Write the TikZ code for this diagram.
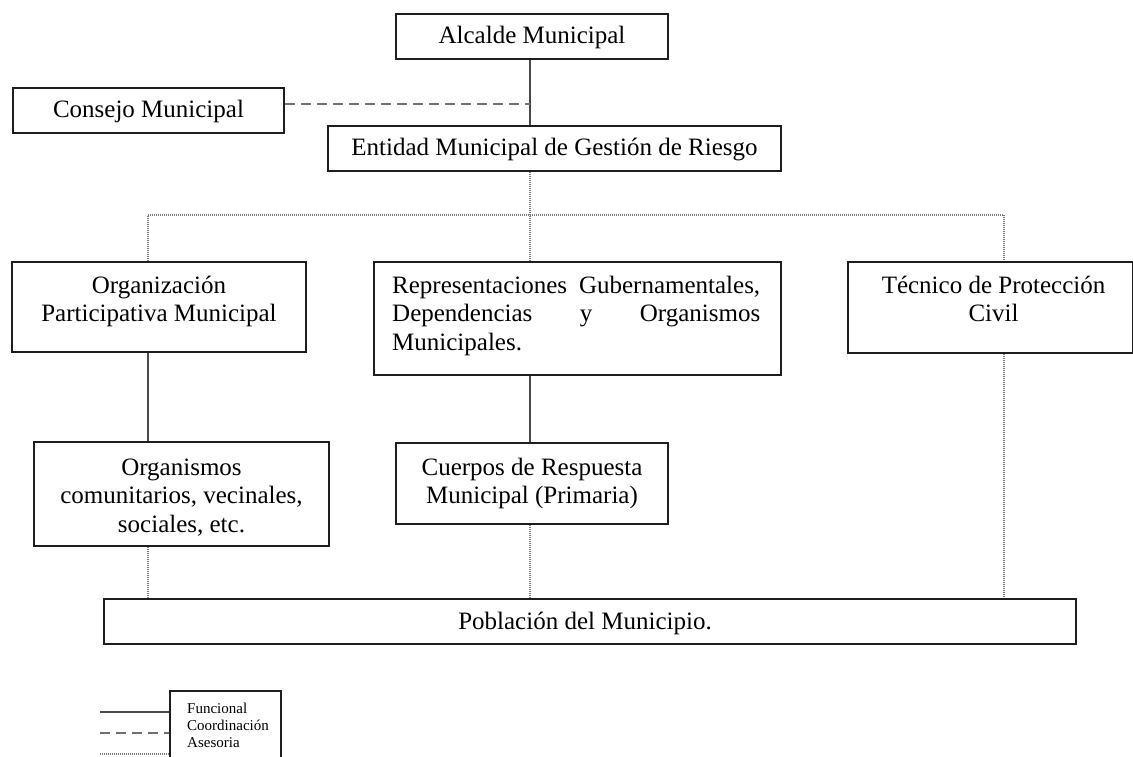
\documentclass[tikz,border=0pt]{standalone}
\usepackage{fontspec}
\setmainfont{Liberation Serif}
\usetikzlibrary{calc}
\definecolor{boxline}{HTML}{1E1E1E}
\definecolor{funcol}{HTML}{4A4A4A}
\definecolor{coordcol}{HTML}{707070}
\definecolor{asecol}{HTML}{7A7A7A}
\tikzset{
  orgbox/.style={draw=boxline, line width=2pt, fill=white, rectangle, inner sep=0pt, anchor=north west},
  orgtxt/.style={inner sep=0pt, anchor=base, align=flush center, text width=#1, font=\fontsize{25}{28.75}\selectfont},
  orgtxt/.default=260pt,
  legtxt/.style={inner sep=0pt, anchor=base west, align=flush left, text width=90pt, font=\fontsize{15}{17}\selectfont},
  funcline/.style={draw=funcol, line width=2pt},
  coordline/.style={draw=coordcol, line width=2.2pt, dash pattern=on 10pt off 6pt},
  aseline/.style={draw=asecol, line width=2.5pt, dash pattern=on 1pt off 1pt}
}
\begin{document}
\begin{tikzpicture}[x=1pt,y=-1pt]
\useasboundingbox (0,0) rectangle (1133,756);
% boxes
\node[orgbox, minimum width=272pt, minimum height=45pt] (alc) at (395,13) {};
\node[orgbox, minimum width=271pt, minimum height=45pt] (con) at (12,87) {};
\node[orgbox, minimum width=453pt, minimum height=45pt] (ent) at (327,125) {};
\node[orgbox, minimum width=294pt, minimum height=90pt] (org) at (11,261) {};
\node[orgbox, minimum width=407pt, minimum height=113pt] (rep) at (373,261) {};
\node[orgbox, minimum width=285pt, minimum height=91pt] (tec) at (847,261) {};
\node[orgbox, minimum width=295pt, minimum height=104pt] (orc) at (33,441) {};
\node[orgbox, minimum width=272pt, minimum height=81pt] (cue) at (395,442) {};
\node[orgbox, minimum width=972pt, minimum height=45pt] (pob) at (103,598) {};
\node[orgbox, minimum width=111pt, minimum height=80pt] (leg) at (169,690) {};
% texts
\node[orgtxt] (talc) at ($(alc.north)+(0,30)$) {Alcalde Municipal};
\node[orgtxt] (tcon) at ($(con.north)+(0,30)$) {Consejo Municipal};
\node[orgtxt=440pt] (tent) at ($(ent.north)+(0,30)$) {Entidad Municipal de Gestión de Riesgo};
\node[orgtxt=280pt] (torg) at ($(org.north)+(0,32)$) {Organización\\Participativa Municipal};
\node[orgtxt=368pt, anchor=base west, align=flush left] (trep) at ($(rep.north west)+(19,32)$) {Representaciones\hfill Gubernamentales,\\Dependencias\hfill y\hfill Organismos\\Municipales.};
\node[orgtxt=275pt] (ttec) at ($(tec.north)+(3,32)$) {Técnico de Protección\\Civil};
\node[orgtxt=285pt] (torc) at ($(orc.north)+(0,34)$) {Organismos\\comunitarios, vecinales,\\sociales, etc.};
\node[orgtxt] (tcue) at ($(cue.north)+(0,33)$) {Cuerpos de Respuesta\\Municipal (Primaria)};
\node[orgtxt=400pt] (tpob) at ($(pob.north)+(-5,31)$) {Población del Municipio.};
\node[legtxt] (tleg) at ($(leg.north west)+(18,23)$) {Funcional\\Coordinación\\Asesoria};
% connector coordinates
\coordinate (bL) at (148,215);
\coordinate (bM) at (530,215);
\coordinate (bR) at (1004,215);
\coordinate (cj) at ([yshift=6.5pt]con.east);
% functional
\draw[funcline] (bM |- alc.south) -- (bM |- ent.north);
\draw[funcline] (bL |- org.south) -- (bL |- orc.north);
\draw[funcline] (bM |- rep.south) -- (bM |- cue.north);
% coordination
\draw[coordline] (cj) -- (cj -| bM);
% advisory
\draw[aseline] (bM |- ent.south) -- (bM |- rep.north);
\draw[aseline] (bL |- org.north) -- (bL) -- (bR) -- (bR |- tec.north);
\draw[aseline] (bL |- orc.south) -- (bL |- pob.north);
\draw[aseline] (bM |- cue.south) -- (bM |- pob.north);
\draw[aseline] (bR |- tec.south) -- (bR |- pob.north);
% legend lines
\coordinate (l1) at (100,712);
\coordinate (l2) at (100,733);
\coordinate (l3) at (100,754);
\draw[funcline] (l1) -- (l1 -| leg.west);
\draw[coordline] (l2) -- (l2 -| leg.west);
\draw[aseline] (l3) -- (l3 -| leg.west);
\end{tikzpicture}
\end{document}
